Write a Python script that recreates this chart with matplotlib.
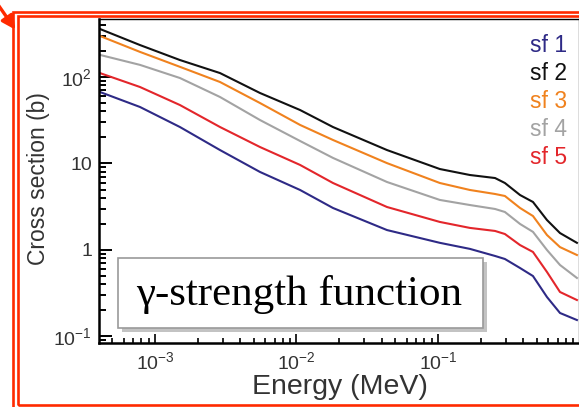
import matplotlib
matplotlib.use("Agg")
import matplotlib.pyplot as plt
import matplotlib.ticker as mticker
import matplotlib.patheffects as pe
from matplotlib.patches import Rectangle

plt.rcParams['font.family'] = ['Liberation Sans', 'DejaVu Sans']
plt.rcParams['mathtext.fontset'] = 'custom'
plt.rcParams['mathtext.rm'] = 'Liberation Sans'
plt.rcParams['mathtext.it'] = 'Liberation Sans'
plt.rcParams['mathtext.default'] = 'regular'

# energies (MeV) at which the curves were read
energy = [4.08e-4, 7.83e-4, 1.50e-3, 2.88e-3, 5.52e-3, 1.06e-2, 1.81e-2, 4.36e-2,
          0.103, 0.168, 0.253, 0.297, 0.380, 0.469, 0.589, 0.728, 0.959]

# cross sections (b) for each strength function
sf1 = [67.1, 45.0, 26.4, 14.3, 7.98, 4.94, 3.06, 1.70,
       1.21, 1.03, 0.853, 0.787, 0.619, 0.500, 0.286, 0.187, 0.155]
sf2 = [359, 234, 157, 111, 65.3, 41.5, 26.4, 14.3,
       8.63, 7.36, 6.79, 5.95, 4.32, 3.59, 2.22, 1.57, 1.21]
sf3 = [298, 195, 131, 87.5, 50.0, 27.9, 18.7, 10.1,
       5.95, 4.94, 4.44, 4.21, 3.06, 2.47, 1.49, 1.08, 0.875]
sf4 = [180, 138, 97.3, 58.7, 31.8, 18.2, 11.6, 6.11,
       3.79, 3.31, 2.98, 2.75, 2.00, 1.62, 1.00, 0.671, 0.475]
sf5 = [111, 76.6, 47.4, 26.4, 15.5, 9.62, 5.95, 3.14,
       2.11, 1.80, 1.66, 1.53, 1.14, 0.949, 0.557, 0.327, 0.264]

names = ["sf 1", "sf 2", "sf 3", "sf 4", "sf 5"]
colors = ["#2e2a86", "#111111", "#f0821e", "#a3a3a3", "#e3262b"]

xticks = [1e-3, 1e-2, 1e-1, 1]
xticklabels = ["$10^{-3}$", "$10^{-2}$", "$10^{-1}$", "1"]
yticks = [0.1, 1, 10, 100]
yticklabels = ["$10^{-1}$", "1", "10", "$10^{2}$"]

W, H = 579, 407
fig = plt.figure(figsize=(W / 100, H / 100), dpi=100)

def px(x, y):
    return x / W, 1 - y / H

# axes box in pixels: left 99, right 578.5, top 19, bottom 343
ax = fig.add_axes([99 / W, 1 - 343 / H, (578.5 - 99) / W, (343 - 19) / H])

for vals, c in zip([sf1, sf2, sf3, sf4, sf5], colors):
    ax.plot(energy, vals, color=c, lw=1.5, solid_joinstyle='round')

ax.set_xscale('log')
ax.set_yscale('log')
ax.set_xlim(4.02e-4, 0.984)
ax.set_ylim(0.0841, 468)

ax.xaxis.set_major_locator(mticker.FixedLocator(xticks))
ax.xaxis.set_major_formatter(mticker.FixedFormatter(xticklabels))
ax.yaxis.set_major_locator(mticker.FixedLocator(yticks))
ax.yaxis.set_major_formatter(mticker.FixedFormatter(yticklabels))
ax.xaxis.set_minor_locator(mticker.LogLocator(base=10, subs=range(2, 10), numticks=20))
ax.yaxis.set_minor_locator(mticker.LogLocator(base=10, subs=range(2, 10), numticks=20))
ax.xaxis.set_minor_formatter(mticker.NullFormatter())
ax.yaxis.set_minor_formatter(mticker.NullFormatter())

ax.tick_params(axis='y', which='major', direction='in', length=9.5, width=1.4,
               labelsize=14, labelcolor='#333333', pad=5)
ax.tick_params(axis='y', which='minor', direction='in', length=5, width=1.4)
ax.tick_params(axis='x', which='major', direction='in', length=6.5, width=1.2,
               labelsize=14, labelcolor='#333333', pad=6)
ax.tick_params(axis='x', which='minor', direction='in', length=3.3, width=1.2)

ax.spines['left'].set_linewidth(1.8)
ax.spines['bottom'].set_linewidth(1.8)
ax.spines['top'].set_linewidth(1.0)
ax.spines['right'].set_linewidth(1.0)
ax.spines['right'].set_color('#555555')

# legend as coloured text at the right
for i, (n, c) in enumerate(zip(names, colors)):
    fig.text(*px(567, 45 + 28.2 * i), n, color=c, fontsize=16.5,
             ha='right', va='center')

# axis labels
fig.text(*px(340, 387), "Energy (MeV)", fontsize=20.5, color='#333333',
         ha='center', va='center')
fig.text(*px(38, 179), "Cross section (b)", fontsize=16.5, color='#333333',
         ha='center', va='center', rotation=90)

# boxed caption with drop shadow
x0, y0, x1, y1 = 118, 258, 483, 328
box = Rectangle(px(x0, y1), (x1 - x0) / W, (y1 - y0) / H, transform=fig.transFigure,
                facecolor='white', edgecolor='#9a9a9a', lw=1.2, zorder=5,
                path_effects=[pe.SimplePatchShadow(offset=(3, -3), shadow_rgbFace='#888888',
                                                   alpha=0.5), pe.Normal()])
fig.patches.append(box)
fig.text(*px(299, 295), "\u03b3-strength function", fontsize=31, color='black',
         family=['Liberation Serif', 'DejaVu Serif'], ha='center', va='center', zorder=6)

# red double frame around the panel
red = '#ff2a00'
for inset_l, inset_t, bottom in [(13, 11.5, 410), (17.5, 15.5, 404.5)]:
    fr = Rectangle(px(inset_l, bottom), (700 - inset_l) / W, (bottom - inset_t) / H,
                   transform=fig.transFigure, fill=False, edgecolor=red, lw=1.9,
                   zorder=10, clip_on=False)
    fig.patches.append(fr)

# arrow pointing at the corner
fig.patches.append(matplotlib.patches.FancyArrowPatch(
    px(-8, -4), px(17, 32), transform=fig.transFigure, arrowstyle='-|>',
    mutation_scale=20, color=red, lw=2.4, zorder=11))

fig.savefig("out.png", dpi=100)
